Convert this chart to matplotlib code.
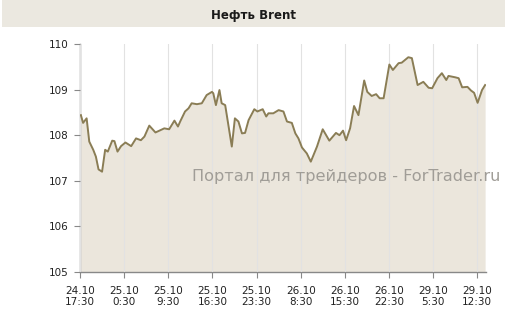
#!/usr/bin/env python3
"""Brent oil intraday chart (area under line)."""

import matplotlib

matplotlib.use("Agg")
import matplotlib.pyplot as plt
from matplotlib.patches import Rectangle

# positions in tick units (0 = first tick label, 9 = last)
t = [0.02, 0.07, 0.15, 0.21, 0.30, 0.36, 0.42, 0.50, 0.57, 0.63,
     0.73, 0.78, 0.85, 0.93, 1.03, 1.16, 1.27, 1.38, 1.46, 1.57,
     1.71, 1.80, 1.91, 2.02, 2.14, 2.22, 2.27, 2.38, 2.46, 2.53,
     2.65, 2.76, 2.87, 2.99, 3.02, 3.08, 3.16, 3.21, 3.29, 3.44,
     3.51, 3.59, 3.67, 3.74, 3.82, 3.95, 4.02, 4.14, 4.22, 4.27,
     4.38, 4.50, 4.61, 4.69, 4.80, 4.88, 4.95, 5.03, 5.14, 5.23,
     5.37, 5.50, 5.65, 5.80, 5.88, 5.96, 6.03, 6.12, 6.21, 6.31,
     6.44, 6.51, 6.61, 6.71, 6.79, 6.88, 7.01, 7.09, 7.22, 7.29,
     7.44, 7.52, 7.65, 7.78, 7.90, 7.98, 8.10, 8.20, 8.30, 8.35,
     8.50, 8.58, 8.66, 8.78, 8.86, 8.93, 9.01, 9.11, 9.18]

price = [108.44, 108.27, 108.37, 107.86, 107.68, 107.53, 107.25, 107.20, 107.68, 107.64,
         107.88, 107.87, 107.64, 107.76, 107.84, 107.76, 107.93, 107.89, 107.97, 108.21,
         108.06, 108.10, 108.15, 108.13, 108.32, 108.19, 108.30, 108.52, 108.59, 108.70,
         108.68, 108.70, 108.88, 108.95, 108.92, 108.66, 108.99, 108.70, 108.66, 107.75,
         108.37, 108.30, 108.04, 108.05, 108.33, 108.57, 108.52, 108.57, 108.41, 108.48,
         108.48, 108.55, 108.52, 108.30, 108.27, 108.04, 107.93, 107.73, 107.60, 107.42,
         107.75, 108.13, 107.88, 108.05, 108.00, 108.10, 107.89, 108.15, 108.64, 108.44,
         109.20, 108.95, 108.86, 108.90, 108.81, 108.81, 109.55, 109.43, 109.58, 109.59,
         109.71, 109.69, 109.10, 109.17, 109.04, 109.03, 109.25, 109.36, 109.21, 109.30,
         109.27, 109.25, 109.05, 109.06, 108.98, 108.93, 108.71, 108.99, 109.10]

tick_labels = ["24.10\n17:30", "25.10\n0:30", "25.10\n9:30", "25.10\n16:30",
               "25.10\n23:30", "26.10\n8:30", "26.10\n15:30", "26.10\n22:30",
               "29.10\n5:30", "29.10\n12:30"]
y_ticks = [105, 106, 107, 108, 109, 110]

LINE = "#8a7d55"
FILL = "#ebe6dc"

fig = plt.figure(figsize=(5.07, 3.30), dpi=100)
fig.patch.set_facecolor("white")

# title band
fig.patches.append(Rectangle((2 / 507, 1 - 27 / 330), 503 / 507, 27 / 330,
                             transform=fig.transFigure, facecolor="#ebe8e0",
                             edgecolor="none", zorder=0))
fig.text(0.5, 1 - 15 / 330, "Нефть Brent", ha="center", va="center",
         fontsize=8.5, fontweight="bold", color="#1a1a1a")

ax = fig.add_axes([80 / 507, 58 / 330, 406 / 507, 228 / 330])
ax.fill_between(t, price, 105, color=FILL, lw=0, zorder=1)
ax.plot(t, price, color=LINE, lw=1.4, zorder=3)

ax.set_xlim(0, 9.2)
ax.set_ylim(105, 110)
ax.set_xticks(range(len(tick_labels)))
ax.set_xticklabels(tick_labels, fontsize=7.5, color="#222222", linespacing=1.1)
ax.set_yticks(y_ticks)
ax.set_yticklabels([str(v) for v in y_ticks], fontsize=7.5, color="#222222")
ax.tick_params(axis="both", direction="out", length=4, color="#888888", width=0.8)
ax.tick_params(axis="x", pad=6)
ax.tick_params(axis="y", pad=4)

ax.grid(axis="x", color="#e2e2e2", lw=0.8, zorder=2)
ax.set_axisbelow(False)
for side in ("top", "right"):
    ax.spines[side].set_visible(False)
for side in ("left", "bottom"):
    ax.spines[side].set_color("#888888")
    ax.spines[side].set_linewidth(1.0)

fig.text(192 / 507, 1 - 176 / 330, "Портал для трейдеров - ForTrader.ru",
         ha="left", va="center", fontsize=11.6, color="#a09d97", zorder=5)

fig.savefig("out.png", dpi=100)
